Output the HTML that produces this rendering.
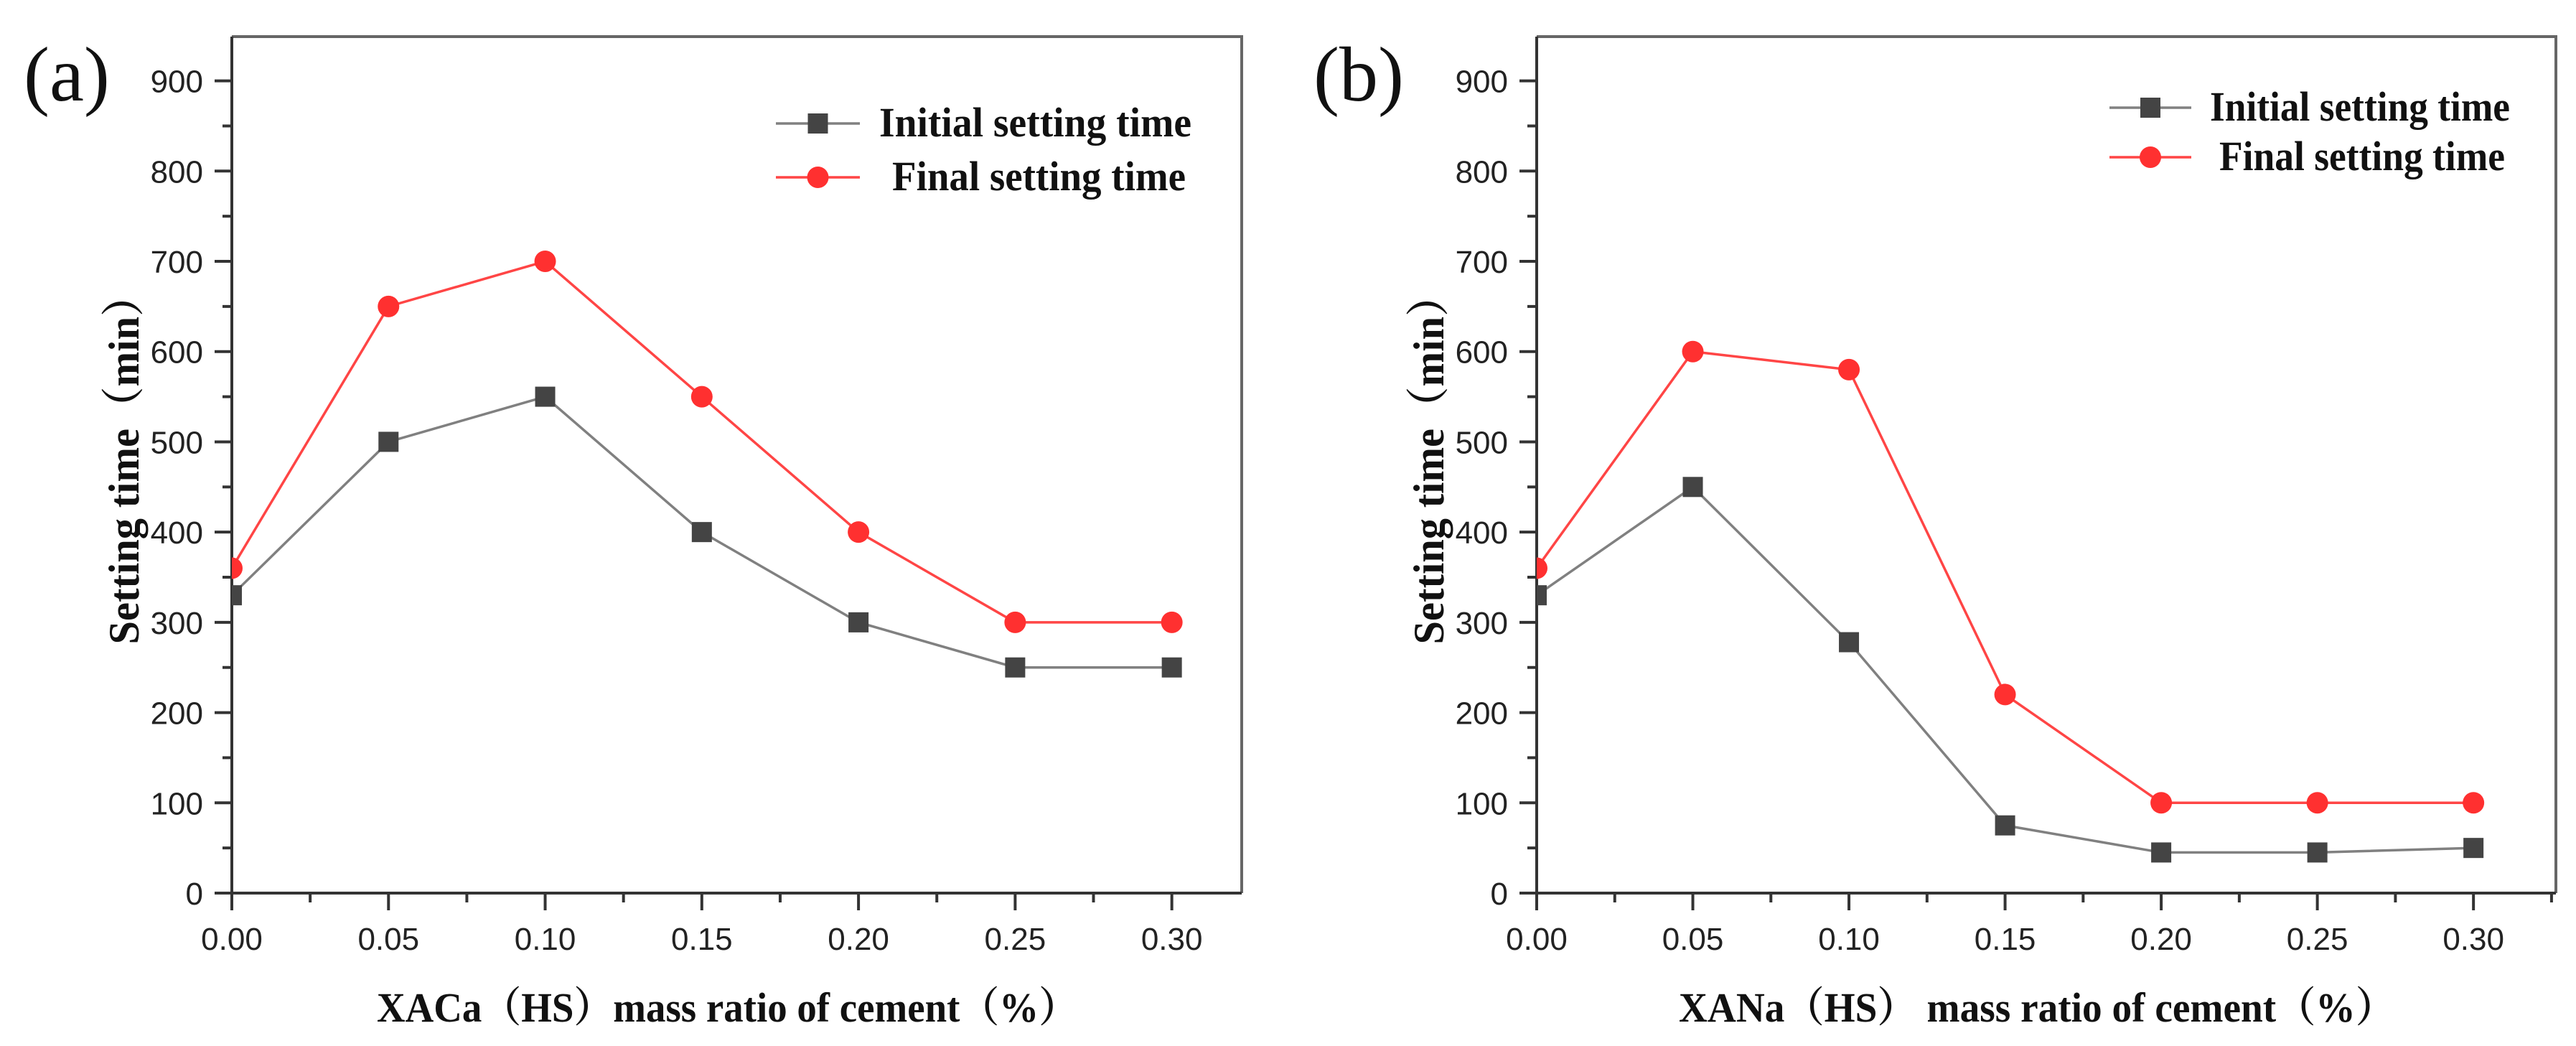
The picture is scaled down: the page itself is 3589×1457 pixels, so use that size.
<!DOCTYPE html>
<html><head><meta charset="utf-8"><style>
html,body{margin:0;padding:0;background:#fff;}
svg{display:block;}
</style></head><body>
<svg id="fig" width="3589" height="1457" viewBox="0 0 3589 1457" xmlns="http://www.w3.org/2000/svg"></svg>
<script>
const xCats = [0, 0.05, 0.10, 0.15, 0.20, 0.25, 0.30];
const xTickLabels = ["0.00","0.05","0.10","0.15","0.20","0.25","0.30"];
const yTicks = [0,100,200,300,400,500,600,700,800,900];
const aInitial = [330, 500, 550, 400, 300, 250, 250];
const aFinal = [360, 650, 700, 550, 400, 300, 300];
const bInitial = [330, 450, 278, 75, 45, 45, 50];
const bFinal = [360, 600, 580, 220, 100, 100, 100];
const seriesNames = ["Initial setting time", "Final setting time"];

const NS = "http://www.w3.org/2000/svg";
const svgRoot = document.getElementById('fig');
function mk(tag, attrs, parent){
  const e = document.createElementNS(NS, tag);
  for (const k in attrs) e.setAttribute(k, attrs[k]);
  (parent||svgRoot).appendChild(e);
  return e;
}

const panels = [
  {id:'a', left:323, right:1730, xmax:0.3223, init:aInitial, fin:aFinal,
   tag:'(a)', tagX:33, legLine:[1081,1198], legText:[[1225,1660],[1243,1652]], legY:[172,247],
   xlabel:'XACa（HS）mass ratio of cement（%）', xlabX:[525,1502], ylabX:173},
  {id:'b', left:2141, right:3561, xmax:0.3264, init:bInitial, fin:bFinal,
   tag:'(b)', tagX:1830, legLine:[2939,3053], legText:[[3079,3497],[3092,3490]], legY:[150,219],
   xlabel:'XANa（HS） mass ratio of cement（%）', xlabX:[2339,3337], ylabX:1991}
];
const plotTop = 51, plotBottom = 1244, ymax = 949;

panels.forEach(p => {
  const g = mk('g', {});
  
  
  const X = v => p.left + (v / p.xmax) * (p.right - p.left);
  const Y = v => plotBottom - (v / ymax) * (plotBottom - plotTop);

  const cp = mk('clipPath', {id:'clip-' + p.id}, g);
  mk('rect', {x:p.left, y:plotTop, width:p.right - p.left, height:plotBottom - plotTop}, cp);

  const fr = mk('path', {d:`M${p.left} ${plotTop} H${p.right} V${plotBottom}`, fill:'none', stroke:'#666', 'stroke-width':4}, g);
  
  

  const ya = mk('g', {}, g);
  
  
  mk('line', {x1:p.left, y1:plotTop, x2:p.left, y2:plotBottom + 24, stroke:'#333', 'stroke-width':4}, ya);
  for (let v = 50; v <= 900; v += 100) {
    mk('line', {x1:p.left - 13, y1:Y(v), x2:p.left, y2:Y(v), stroke:'#333', 'stroke-width':4}, ya);
  }
  yTicks.forEach(v => {
    mk('line', {x1:p.left - 24, y1:Y(v), x2:p.left, y2:Y(v), stroke:'#333', 'stroke-width':4}, ya);
    const t = mk('text', {x:p.left - 40, y:Y(v) + 16, 'text-anchor':'end', 'font-family':'"Liberation Sans Narrow","Liberation Sans",sans-serif', 'font-size':44, fill:'#222'}, ya);
    t.textContent = v;
    
    
  });

  const xa = mk('g', {}, g);
  
  
  mk('line', {x1:p.left - 23, y1:plotBottom, x2:p.right, y2:plotBottom, stroke:'#333', 'stroke-width':4}, xa);
  for (let v = 0.025; v < p.xmax; v += 0.05) {
    mk('line', {x1:X(v), y1:plotBottom, x2:X(v), y2:plotBottom + 13, stroke:'#333', 'stroke-width':4}, xa);
  }
  xCats.forEach((v, i) => {
    mk('line', {x1:X(v), y1:plotBottom, x2:X(v), y2:plotBottom + 24, stroke:'#333', 'stroke-width':4}, xa);
    const t = mk('text', {x:X(v), y:1323, 'text-anchor':'middle', 'font-family':'"Liberation Sans Narrow","Liberation Sans",sans-serif', 'font-size':44, fill:'#222'}, xa);
    t.textContent = xTickLabels[i];
    
    
  });

  const xt = mk('text', {x:p.xlabX[0], y:1423, 'font-family':'"Liberation Serif","Noto Serif CJK SC",serif', 'font-weight':'bold', 'font-size':58, textLength:p.xlabX[1] - p.xlabX[0], lengthAdjust:'spacingAndGlyphs', fill:'#111'}, g);
  xt.textContent = p.xlabel;
  
  
  const yt = mk('text', {x:0, y:0, 'text-anchor':'middle', 'font-family':'"Liberation Serif","Noto Serif CJK SC",serif', 'font-weight':'bold', 'font-size':60, textLength:515, lengthAdjust:'spacingAndGlyphs', fill:'#111', transform:`translate(${p.ylabX + 20},640) rotate(-90)`}, g);
  yt.textContent = 'Setting time（min）';
  
  

  const tg = mk('text', {x:p.tagX, y:140, 'font-family':'"Liberation Serif",serif', 'font-size':108, fill:'#111'}, g);
  tg.textContent = p.tag;
  
  

  const plot = mk('g', {'clip-path':`url(#clip-${p.id})`}, g);
  const ptsI = p.init.map((v, i) => `${X(xCats[i])},${Y(v)}`).join(' ');
  const ptsF = p.fin.map((v, i) => `${X(xCats[i])},${Y(v)}`).join(' ');
  const li = mk('polyline', {points:ptsI, fill:'none', stroke:'#808080', 'stroke-width':3.5}, plot);
  
  
  const lf = mk('polyline', {points:ptsF, fill:'none', stroke:'#ff4545', 'stroke-width':3.5}, plot);
  
  
  p.init.forEach((v, i) => {
    const m = mk('rect', {x:X(xCats[i]) - 14, y:Y(v) - 14, width:28, height:28, fill:'#444'}, plot);
    
    
  });
  p.fin.forEach((v, i) => {
    const m = mk('circle', {cx:X(xCats[i]), cy:Y(v), r:15, fill:'#ff3030'}, plot);
    
    
  });

  const lg = mk('g', {}, g);
  
  
  const mid = (p.legLine[0] + p.legLine[1]) / 2;
  [0, 1].forEach(k => {
    const e = mk('g', {}, lg);
    
    
    const y = p.legY[k];
    mk('line', {x1:p.legLine[0], y1:y, x2:p.legLine[1], y2:y, stroke:k ? '#ff4545' : '#808080', 'stroke-width':3.5}, e);
    if (k) mk('circle', {cx:mid, cy:y, r:15, fill:'#ff3030'}, e);
    else mk('rect', {x:mid - 14, y:y - 14, width:28, height:28, fill:'#444'}, e);
    const x0 = p.legText[k][0], x1 = p.legText[k][1];
    const t = mk('text', {x:x0, y:y + 18, 'font-family':'"Liberation Serif",serif', 'font-weight':'bold', 'font-size':58, textLength:x1 - x0, lengthAdjust:'spacingAndGlyphs', fill:'#111'}, e);
    t.textContent = seriesNames[k];
  });
});
</script>
</body></html>
